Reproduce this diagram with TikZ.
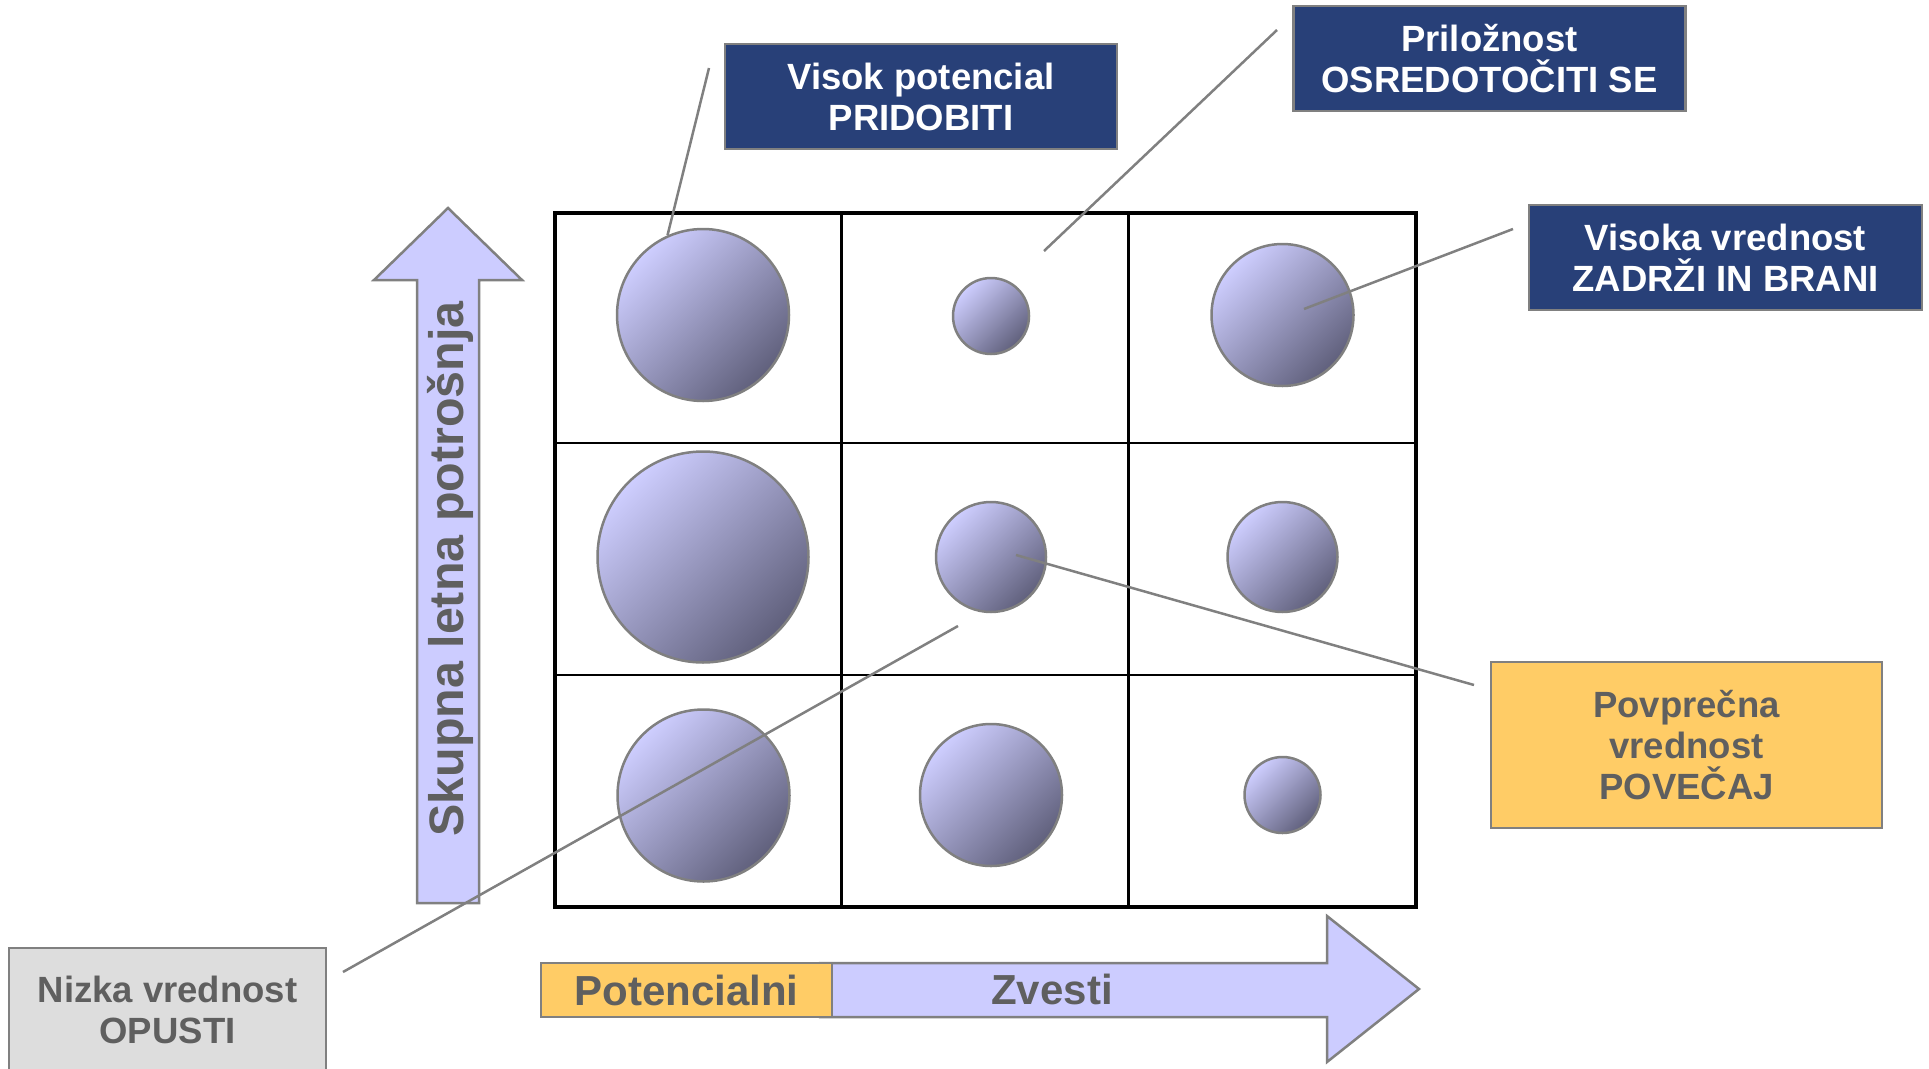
\documentclass[tikz,border=0pt]{standalone}
\usepackage{fontspec}
\setmainfont{Liberation Sans}
\definecolor{boxblue}{RGB}{40,64,120}
\definecolor{bordergray}{RGB}{128,128,128}
\definecolor{arrowfill}{RGB}{204,204,255}
\definecolor{boxyellow}{RGB}{255,204,102}
\definecolor{boxgray}{RGB}{221,221,221}
\definecolor{textgray}{RGB}{95,95,95}
\definecolor{bubtop}{RGB}{206,206,255}
\definecolor{bubbot}{RGB}{96,96,124}
\tikzset{
  boxtext/.style={font=\bfseries\fontsize{36.5}{41}\selectfont, align=center},
  darkbox/.style={boxtext, rectangle, fill=boxblue, draw=bordergray, line width=2.5pt, text=white, inner sep=0pt},
  yellowbox/.style={boxtext, rectangle, fill=boxyellow, draw=bordergray, line width=2.5pt, text=textgray, inner sep=0pt},
  graybox/.style={boxtext, rectangle, fill=boxgray, draw=bordergray, line width=2.5pt, text=textgray, inner sep=0pt},
  bubble/.style={circle, draw=bordergray, line width=2.5pt, inner sep=0pt,
     top color=bubtop, bottom color=bubbot, shading angle=45},
  callout/.style={draw=bordergray, line width=2.5pt},
  bigarrow/.style={fill=arrowfill, draw=bordergray, line width=2.5pt, line join=miter},
  gridthick/.style={draw=black, line width=4.5pt},
  gridthin/.style={draw=black, line width=2.5pt},
  axistext/.style={font=\bfseries\fontsize{42}{48}\selectfont, text=textgray, inner sep=0pt}
}
\begin{document}
\begin{tikzpicture}[x=1pt,y=-1pt]
\useasboundingbox (0,0) rectangle (1929,1068);

% vertical axis arrow
\draw[bigarrow] (417,903) -- (417,280) -- (374,280) -- (448,208) -- (522,280) -- (479,280) -- (479,903) -- cycle;
\node[font=\bfseries\fontsize{48.4}{54}\selectfont, text=textgray, rotate=90, inner sep=0pt] (ylab) at (450,569) {Skupna letna potrošnja};

% horizontal axis arrow
\draw[bigarrow] (820,963) -- (1327,963) -- (1327,916) -- (1419,989) -- (1327,1062) -- (1327,1017) -- (820,1017) -- cycle;
\node[axistext] (zvesti) at (1052,989) {Zvesti};
\node[yellowbox, minimum width=291pt, minimum height=54pt, font=\bfseries\fontsize{42}{48}\selectfont] (potenc) at (686.5,990) {Potencialni};

% grid
\draw[gridthin] (841.5,213) -- (841.5,907);
\draw[gridthin] (1128.5,213) -- (1128.5,907);
\draw[gridthin] (555,443) -- (1416,443);
\draw[gridthin] (555,675) -- (1416,675);
\draw[gridthick] (555,213) rectangle (1416,907);

% bubbles
\node[bubble, minimum size=172pt] (c11) at (703,315) {};
\node[bubble, minimum size=76pt]  (c12) at (991,316) {};
\node[bubble, minimum size=142pt] (c13) at (1282.5,315) {};
\node[bubble, minimum size=211pt] (c21) at (703,557) {};
\node[bubble, minimum size=110pt] (c22) at (991,557) {};
\node[bubble, minimum size=110pt] (c23) at (1282.5,557) {};
\node[bubble, minimum size=172pt] (c31) at (703.5,795.5) {};
\node[bubble, minimum size=142pt] (c32) at (991,795) {};
\node[bubble, minimum size=76pt]  (c33) at (1282.5,795) {};

% label boxes
\node[darkbox, minimum width=392pt, minimum height=105pt] (bvisok) at (921,96.5) {Visok potencial\\PRIDOBITI};
\node[darkbox, minimum width=392pt, minimum height=105pt] (bpril) at (1489.5,58.5) {Priložnost\\OSREDOTOČITI SE};
\node[darkbox, minimum width=393pt, minimum height=105pt] (bvisoka) at (1725.5,257.5) {Visoka vrednost\\ZADRŽI IN BRANI};
\node[yellowbox, minimum width=391pt, minimum height=166pt] (bpovp) at (1686.5,745) {Povprečna\\vrednost\\POVEČAJ};
\node[graybox, minimum width=317pt, minimum height=124pt] (bnizka) at (167.5,1010) {Nizka vrednost\\OPUSTI};

% callout lines
\coordinate (kv) at (709,68);
\coordinate (kp1) at (1277,30);
\coordinate (kp2) at (1044,251);
\coordinate (kz1) at (1513,229);
\coordinate (kz2) at (1304,309);
\coordinate (ka1) at (1474,685);
\coordinate (ka2) at (1016,555);
\coordinate (kn1) at (343,972);
\coordinate (kn2) at (958,626);
\draw[callout] (kv) -- (c11.114);
\draw[callout] (kp1) -- (kp2);
\draw[callout] (kz1) -- (kz2);
\draw[callout] (ka1) -- (ka2);
\draw[callout] (kn1) -- (kn2);
\end{tikzpicture}
\end{document}
